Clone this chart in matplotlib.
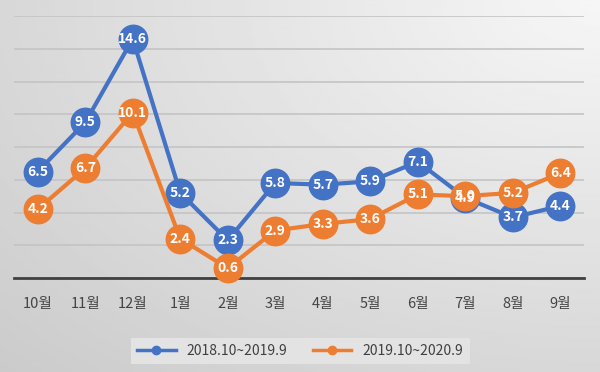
import numpy as np
import matplotlib; matplotlib.use('Agg')
import matplotlib.pyplot as plt

plt.rcParams['font.family'] = ['Noto Sans CJK KR', 'DejaVu Sans']

months = ['10월', '11월', '12월', '1월', '2월', '3월', '4월', '5월', '6월', '7월', '8월', '9월']
s1_label = '2018.10~2019.9'
s1 = [6.5, 9.5, 14.6, 5.2, 2.3, 5.8, 5.7, 5.9, 7.1, 4.9, 3.7, 4.4]
s2_label = '2019.10~2020.9'
s2 = [4.2, 6.7, 10.1, 2.4, 0.6, 2.9, 3.3, 3.6, 5.1, 5.0, 5.2, 6.4]

BLUE = '#4472C4'
ORANGE = '#ED7D31'

fig = plt.figure(figsize=(6, 3.72), dpi=100)

# gray gradient background
bg = fig.add_axes([0, 0, 1, 1], zorder=-10)
yy, xx = np.mgrid[0:1:200j, 0:1:200j]
d = np.sqrt((1 - xx) ** 2 + (yy) ** 2) / np.sqrt(2)
bg.imshow(0.965 - 0.17 * d, cmap='gray', vmin=0, vmax=1, aspect='auto',
          extent=[0, 1, 0, 1], origin='upper')
bg.axis('off')

ax = fig.add_axes([14 / 600, 94 / 372, 570 / 600, 262 / 372])
ax.patch.set_alpha(0)
x = np.arange(len(months))

ax.plot(x, s1, color=BLUE, lw=3, marker='o', ms=20.5, zorder=3, clip_on=False, label=s1_label)
ax.plot(x, s2, color=ORANGE, lw=3, marker='o', ms=20.5, zorder=4, clip_on=False, label=s2_label)
for xi, v in zip(x, s1):
    ax.text(xi, v, f'{v:.1f}', color='white', ha='center', va='center',
            fontsize=10, fontweight='bold', zorder=6)
for xi, v in zip(x, s2):
    ax.text(xi, v, f'{v:.1f}', color='white', ha='center', va='center',
            fontsize=10, fontweight='bold', zorder=6)

ax.set_xlim(-0.5, len(months) - 0.5)
ax.set_ylim(0, 16)
ax.set_yticks(np.arange(0, 17, 2))
ax.yaxis.grid(True, color='#c4c4c4', lw=1.2)
ax.set_axisbelow(True)
ax.tick_params(axis='y', left=False, labelleft=False)
ax.tick_params(axis='x', length=0, pad=14, labelsize=10.5, labelcolor='#444444')
ax.set_xticks(x)
ax.set_xticklabels(months)
for s in ['top', 'right', 'left']:
    ax.spines[s].set_visible(False)
ax.spines['bottom'].set_color('#404040')
ax.spines['bottom'].set_linewidth(2)

h1, = ax.plot([], [], color=BLUE, lw=2.5, marker='o', ms=6)
h2, = ax.plot([], [], color=ORANGE, lw=2.5, marker='o', ms=6)
leg = fig.legend([h1, h2], [s1_label, s2_label], loc='center', ncol=2,
                 bbox_to_anchor=(0.5, 1 - 351 / 372), frameon=True, fancybox=False,
                 fontsize=10, handlelength=2.8, columnspacing=1.8, borderpad=0.45,
                 labelcolor='#404040')
leg.get_frame().set_facecolor('#e3e3e3')
leg.get_frame().set_edgecolor('none')
leg.get_frame().set_alpha(1)

plt.savefig('out.png', dpi=100)
plt.close()
